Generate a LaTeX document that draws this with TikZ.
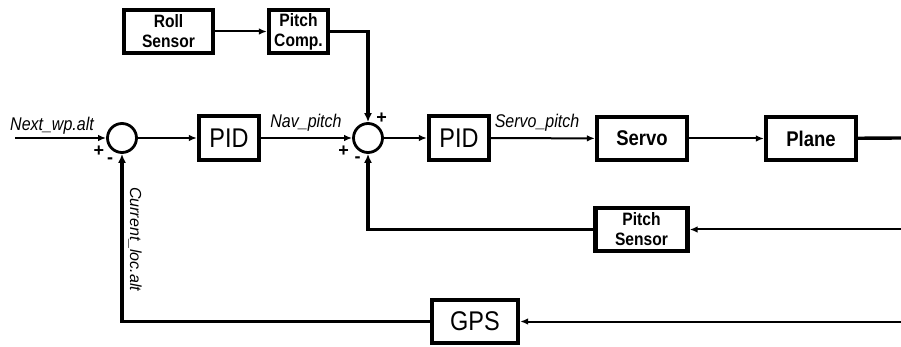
\documentclass[tikz,border=0pt]{standalone}
\usepackage{fontspec}
\usepackage{graphicx}
\setmainfont{Liberation Sans}
\usetikzlibrary{arrows.meta}
\newcommand\vst[1]{\scalebox{1}[1.15]{#1}}
\begin{document}
\begin{tikzpicture}[x=1pt,y=-1pt,
  blk/.style={draw, line width=4.2pt, fill=white, inner sep=0pt, align=center},
  sumc/.style={draw, circle, line width=2.8pt, fill=white, minimum size=29pt, inner sep=0pt},
  thinarr/.style={line width=2pt, -{Latex[length=8pt,width=6.5pt]}},
  thickarr/.style={line width=3.4pt, -{Latex[length=9pt,width=8pt]}},
  thickln/.style={line width=3.4pt},
  pidtxt/.style={font=\fontsize{23.5}{27}\selectfont},
  bigb/.style={font=\bfseries\fontsize{18.5}{21}\selectfont},
  smallb/.style={font=\bfseries\fontsize{15.6}{20}\selectfont},
  sig/.style={font=\itshape\fontsize{16}{19}\selectfont, inner sep=0pt},
  sgn/.style={font=\bfseries\fontsize{18}{20}\selectfont, inner sep=0pt}]
\useasboundingbox (0,0) rectangle (901,347);

% blocks
\node[sumc] (sum1) at (122,138) {};
\node[sumc] (sum2) at (368,138) {};
\node[blk, pidtxt, minimum width=60pt, minimum height=44pt] (pid1) at (229,138) {\vst{PID}};
\node[blk, pidtxt, minimum width=60pt, minimum height=44pt] (pid2) at (459,138) {\vst{PID}};
\node[blk, bigb, minimum width=90pt, minimum height=43pt] (servo) at (642,138.5) {\vst{Servo}};
\node[blk, bigb, minimum width=90pt, minimum height=43pt] (plane) at (811,138.5) {\vst{Plane}};
\node[blk, smallb, minimum width=89pt, minimum height=43pt] (roll) at (168.5,31.5) {\vst{Roll}\\\vst{Sensor}};
\node[blk, smallb, minimum width=59pt, minimum height=43pt] (comp) at (298.5,31.5) {\vst{Pitch}\\\vst{Comp.}};
\node[blk, smallb, minimum width=92pt, minimum height=43pt] (psens) at (641.5,229.5) {\vst{Pitch}\\\vst{Sensor}};
\node[blk, pidtxt, minimum width=86pt, minimum height=43pt] (gps) at (475,321.5) {\vst{GPS}};

% free ends
\coordinate (in) at (15,138);
\coordinate (r1) at (901,138);
\coordinate (r2) at (901,229.5);
\coordinate (r3) at (901,321.5);

% connectors
\draw[thinarr] (in) -- (sum1);
\draw[thinarr] (sum1) -- (pid1);
\draw[thinarr] (pid1) -- (sum2);
\draw[thinarr] (roll) -- (comp);
\draw[thickarr] (comp.east) -| (sum2.north);
\draw[thinarr] (sum2) -- (pid2);
\draw[thinarr] (pid2) -- (servo);
\draw[thinarr] (servo) -- (plane);
\draw[thickln] (plane) -- (r1);
\draw[thinarr] (r2) -- (psens);
\draw[thickarr] (psens.west) -| (sum2.south);
\draw[thinarr] (r3) -- (gps);
\draw[thickarr] (gps.west) -| (sum1.south);

% labels
\node[sig, anchor=base] (l1) at (52,131) {\vst{Next\_wp.alt}};
\node[sig, anchor=base] (l2) at (306,128) {\vst{Nav\_pitch}};
\node[sig, anchor=base] (l3) at (537,128) {\vst{Servo\_pitch}};
\node[sig, rotate=-90, anchor=base west] (l4) at (130,187) {Current\_loc.alt};

% signs
\node[sgn] (s1) at (99,151.5) {+};
\node[sgn] (s2) at (110,161) {-};
\node[sgn] (s3) at (381.5,118) {+};
\node[sgn] (s4) at (343.5,151.5) {+};
\node[sgn] (s5) at (357.5,160) {-};
\end{tikzpicture}
\end{document}
